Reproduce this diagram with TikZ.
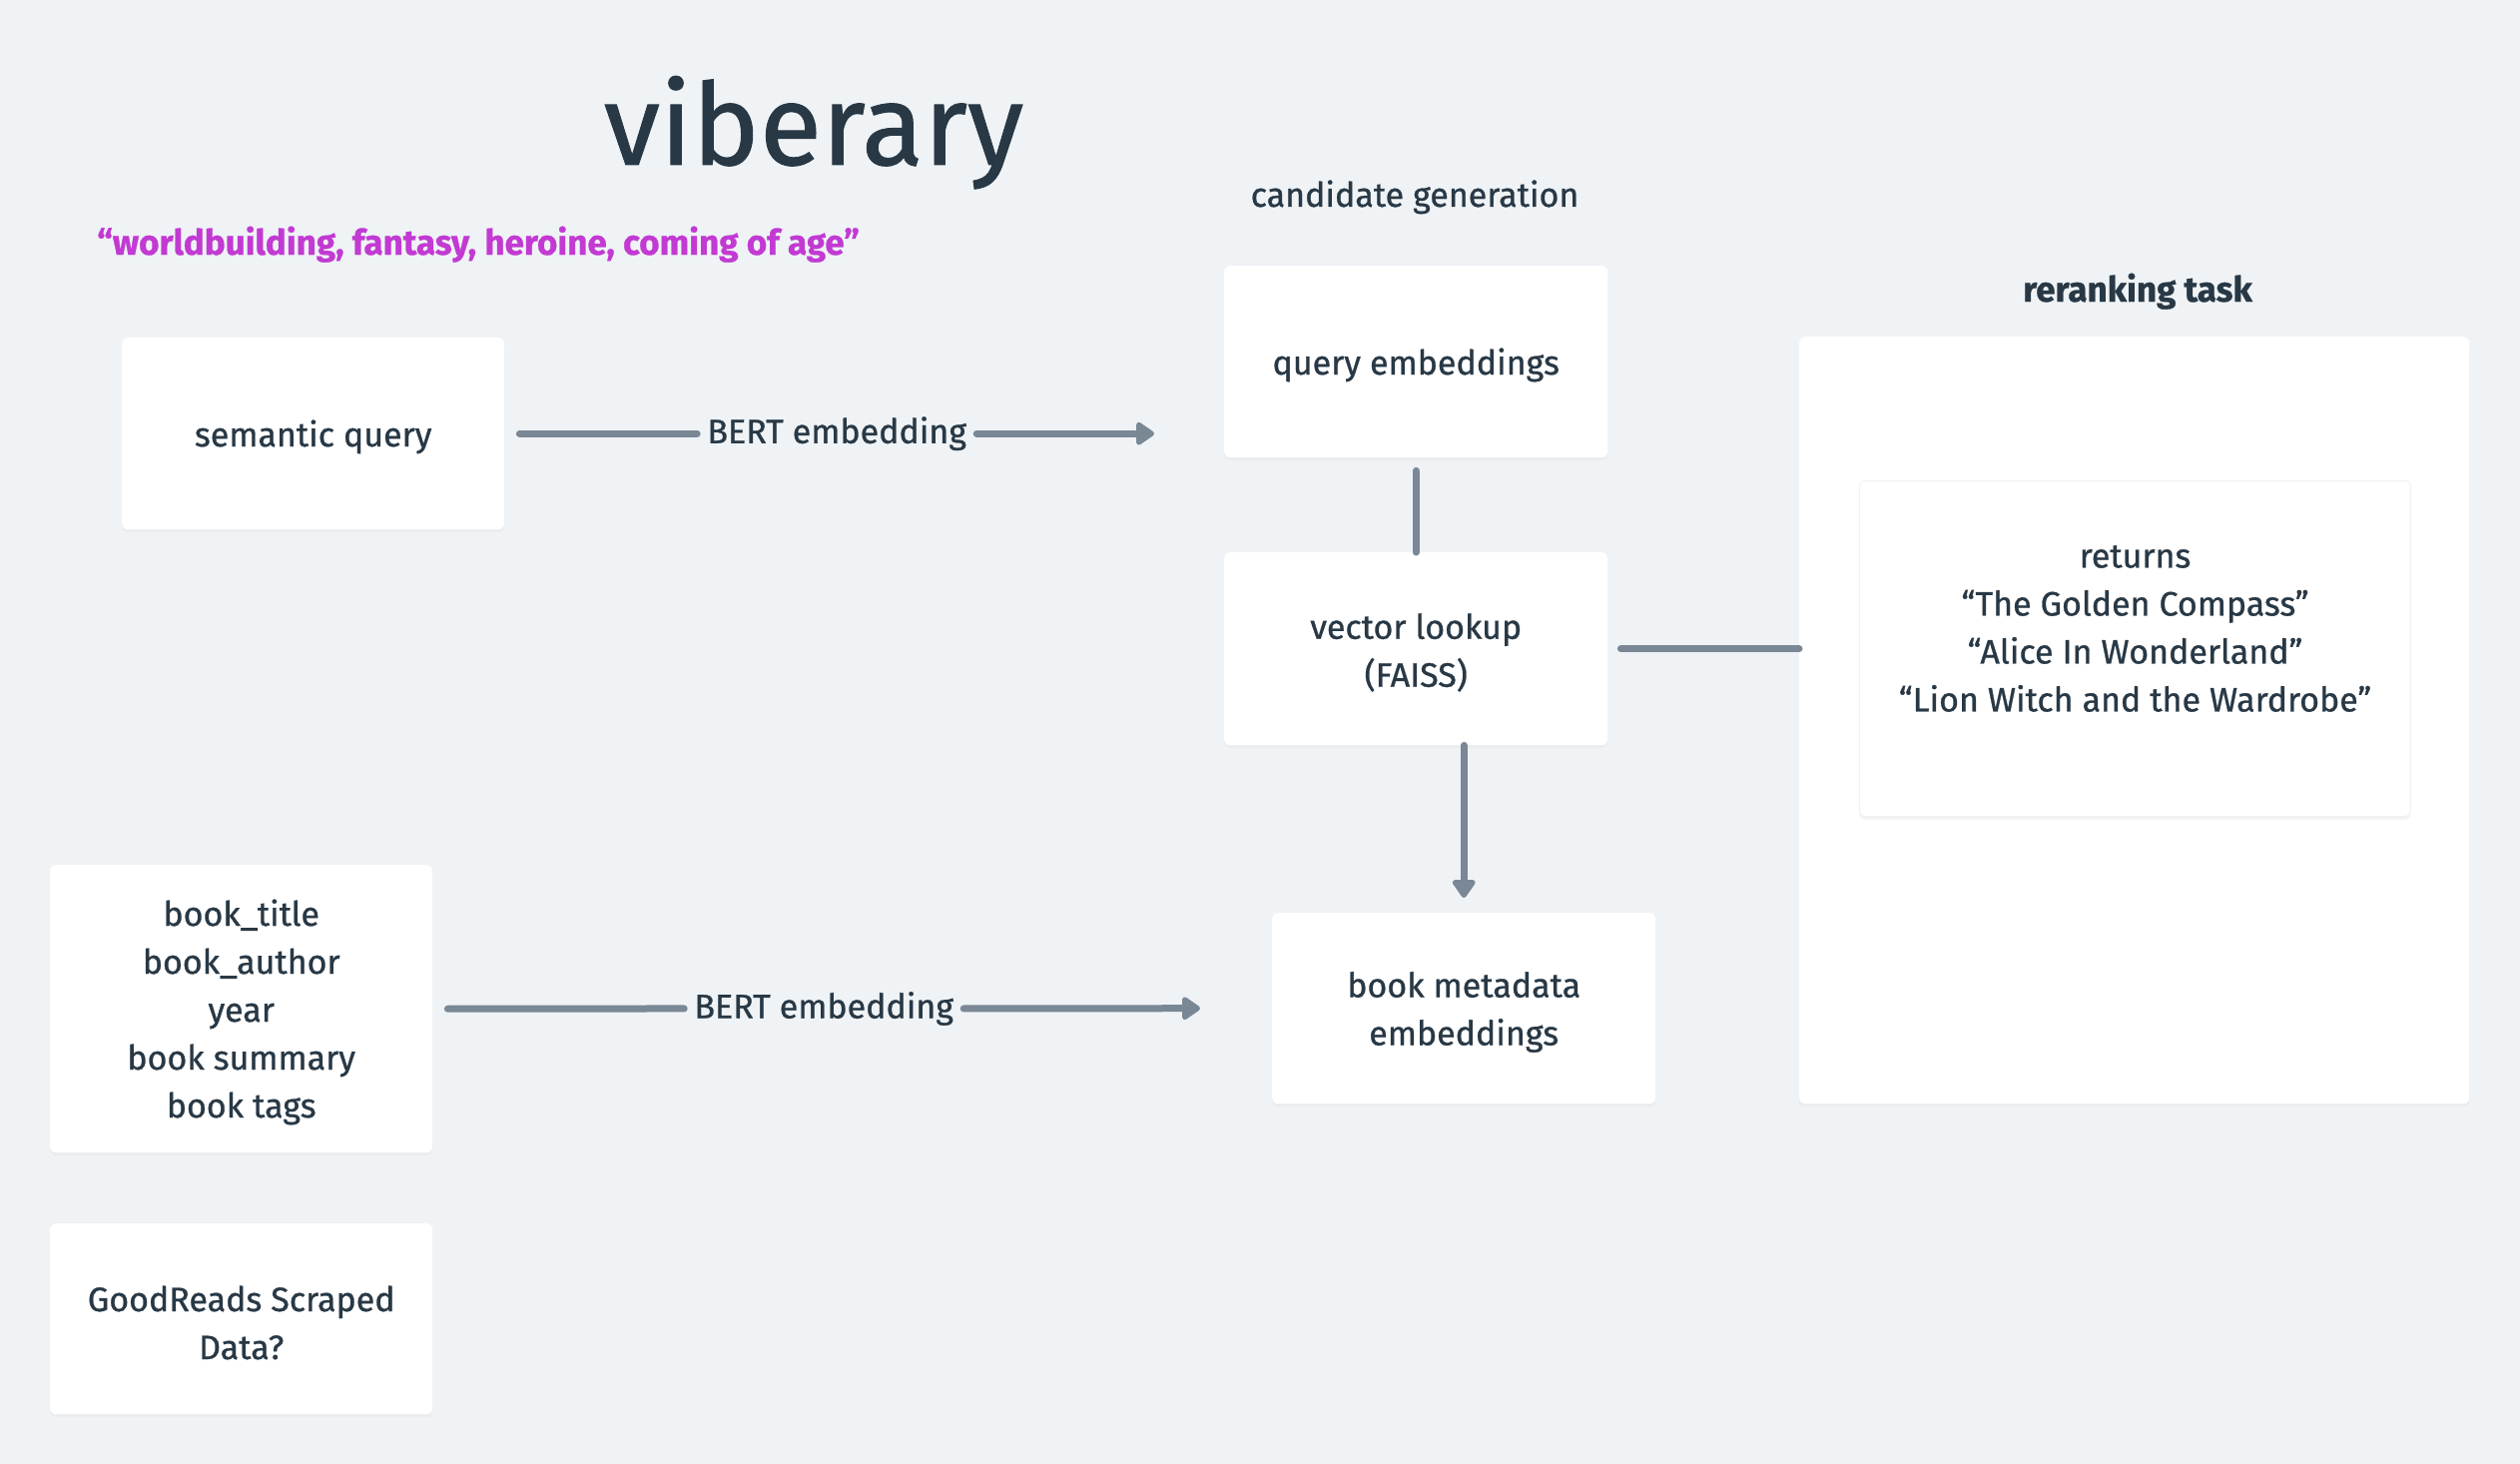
\documentclass[tikz,border=0pt]{standalone}
\usepackage{fontspec}
\setmainfont{Fira Sans}[FakeBold=0.8]
\usetikzlibrary{arrows.meta,calc,shadows}
\definecolor{bgc}{HTML}{EFF3F6}
\definecolor{txt}{HTML}{283845}
\definecolor{lnc}{HTML}{7A8795}
\definecolor{pur}{HTML}{C23AD2}
\newcommand{\bodyfont}{\fontsize{34}{48}\selectfont}
\newcommand{\topstrut}{\rule{0pt}{33pt}}
\tikzset{
  box/.style={fill=white, rounded corners=6pt, anchor=north west, inner sep=0pt,
    align=center, text=txt, font=\bodyfont,
    drop shadow={opacity=0.05, shadow xshift=0pt, shadow yshift=-3pt}},
  conn/.style={draw=lnc, line width=7pt, line cap=round},
  arr/.style={conn, -{Triangle[length=20pt,width=26pt,round]}},
  lbl/.style={inner xsep=10pt, inner ysep=2pt, text=txt, font=\bodyfont},
  plain/.style={text=txt, font=\bodyfont, inner sep=0pt}
}
\begin{document}
\begin{tikzpicture}[x=1pt,y=-1pt]
\fill[bgc] (0,0) rectangle (2524,1466);
\useasboundingbox (0,0) rectangle (2524,1466);

\node[text=txt, font=\fontsize{114}{130}\selectfont, anchor=base, inner sep=0pt] (title) at (815,165) {viberary};
\node[text=pur, font=\fontsize{35}{40}\selectfont\bfseries, anchor=base west, inner sep=0pt] (quote) at (97,255) {“worldbuilding, fantasy, heroine, coming of age”};
\node[plain, anchor=base] (cg) at (1417,207) {candidate generation};
\node[plain, anchor=base, font=\fontsize{35}{48}\selectfont\bfseries] (rt) at (2141,302) {reranking task};

\node[box, minimum width=383pt, minimum height=192pt] (sq) at (122,338) {\topstrut semantic query};
\node[box, minimum width=384pt, minimum height=192pt] (qe) at (1226,266) {\topstrut query embeddings};
\node[box, minimum width=384pt, minimum height=193pt] (vl) at (1226,553) {\topstrut vector lookup\\(FAISS)};
\node[box, minimum width=384pt, minimum height=191pt] (bm) at (1274,914) {\topstrut book metadata\\embeddings};
\node[box, minimum width=383pt, minimum height=288pt] (bt) at (50,866) {\topstrut book\_title\\book\_author\\year\\book summary\\book tags};
\node[box, minimum width=383pt, minimum height=191pt] (gr) at (50,1225) {\topstrut GoodReads Scraped\\Data?};
\node[box, minimum width=671pt, minimum height=768pt] (rr) at (1802,337) {};
\node[box, draw=black!5, line width=1pt, minimum width=552pt, minimum height=336pt, drop shadow={opacity=0.04, shadow xshift=0pt, shadow yshift=-4pt}] (inner) at (1862,481) {};
\node[plain, align=center] (ret) at ($(inner.center)+(0,-20)$) {returns\\“The Golden Compass”\\“Alice In Wonderland”\\“Lion Witch and the Wardrobe”};

\coordinate (a1s) at ($(sq.east)+(15,0)$);
\coordinate (a1e) at ($(qe.west |- sq.east)+(-70,0)$);
\path (a1s) -- node[lbl] (l1) {BERT embedding} (a1e);
\draw[conn] (a1s) -- (l1.west);
\draw[arr] (l1.east) -- (a1e);

\coordinate (a2s) at ($(bt.east)+(15,0)$);
\coordinate (a2e) at ($(bm.west)+(-72,0)$);
\path (a2s) -- node[lbl] (l2) {BERT embedding} (a2e);
\draw[conn] (a2s) -- (l2.west);
\draw[arr] (l2.east) -- (a2e);

\draw[conn] ($(qe.south)+(0,13)$) -- (vl.north);
\draw[conn] ($(vl.east)+(13,0)$) -- (vl.east -| rr.west);
\draw[arr] (vl.south -| bm.north) -- ($(bm.north)+(0,-15)$);
\end{tikzpicture}
\end{document}
